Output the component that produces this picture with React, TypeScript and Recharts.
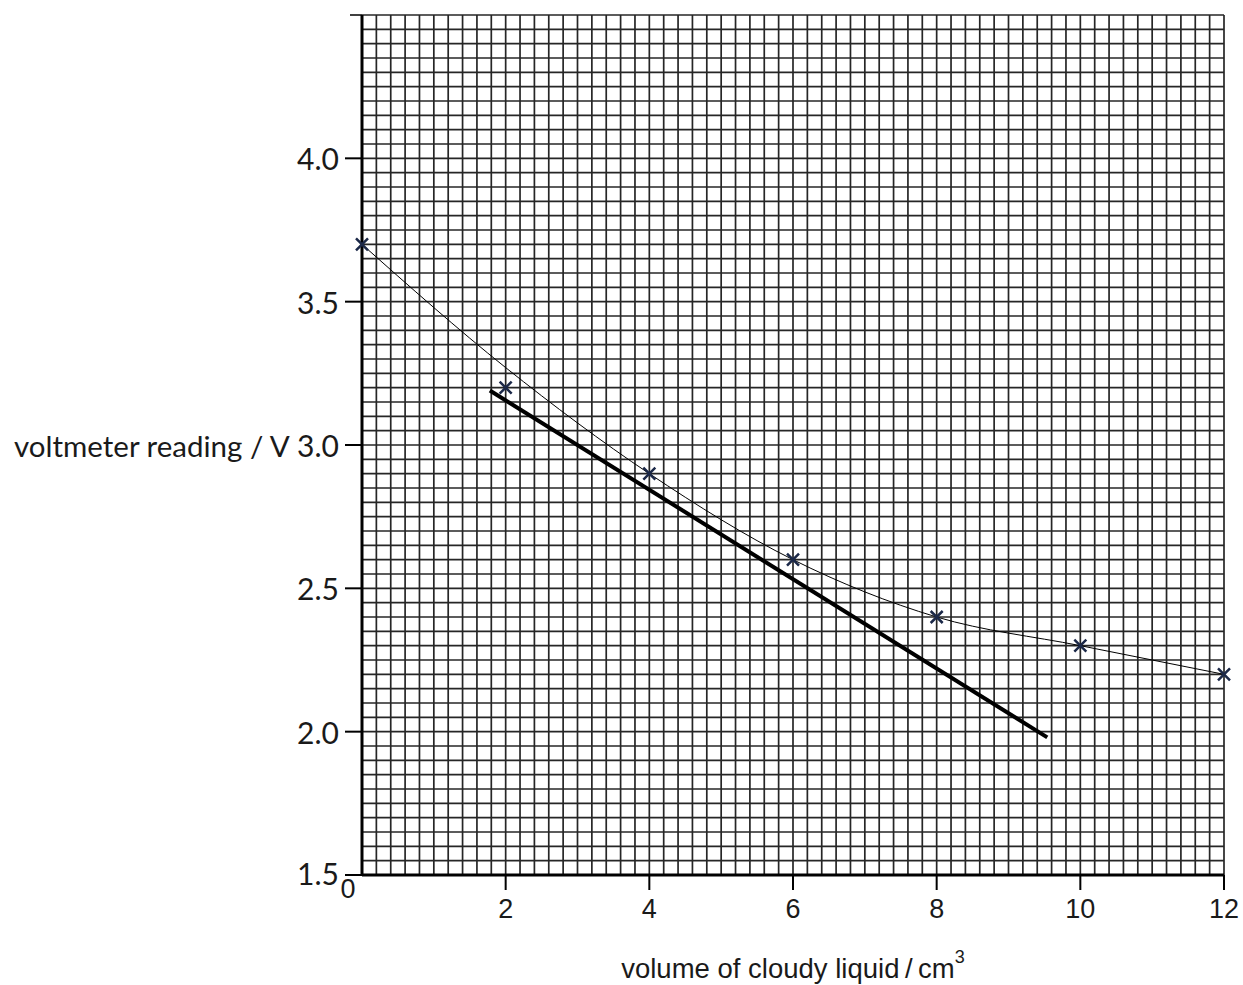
import React from 'react';
import {
  ComposedChart,
  Line,
  Scatter,
  XAxis,
  YAxis,
  ReferenceLine,
} from 'recharts';

// measured points (volume in cm3, reading in V)
const volume = [0, 2, 4, 6, 8, 10, 12];
const voltage = [3.7, 3.2, 2.9, 2.6, 2.4, 2.3, 2.2];

// hand-drawn best fit curve
const curveVolume = [0, 2, 4, 6, 8, 10, 12];
const curveVoltage = [3.7, 3.27, 2.9, 2.6, 2.4, 2.3, 2.2];

// tangent line
const tangentVolume = [1.78, 9.54];
const tangentVoltage = [3.19, 1.98];

const xTicks = [0, 2, 4, 6, 8, 10, 12];
const yTicks = [1.5, 2, 2.5, 3, 3.5, 4, 4.5];

// graph paper: 0.2 cm3 by 0.05 V squares
const gridX = Array.from({ length: 61 }, (_, i) => +(i * 0.2).toFixed(2));
const gridY = Array.from({ length: 61 }, (_, i) => +(1.5 + i * 0.05).toFixed(2));

const points = volume.map((x, i) => ({ x, y: voltage[i] }));
const curve = curveVolume.map((x, i) => ({ x, y: curveVoltage[i] }));
const tangent = tangentVolume.map((x, i) => ({ x, y: tangentVoltage[i] }));

const INK = '#1a1a1a';

const XTick = (props: any) => {
  const { x, y, payload } = props;
  if (payload.value === 0) {
    return (
      <text x={x - 14} y={y + 14} textAnchor="middle" dominantBaseline="central"
        fontFamily="'Liberation Sans', Arial, sans-serif" fontSize={27} fill={INK}>
        0
      </text>
    );
  }
  return (
    <g>
      <line x1={x} y1={y} x2={x} y2={y + 15} stroke="#000" strokeWidth={2} />
      <text x={x} y={y + 34} textAnchor="middle" dominantBaseline="central"
        fontFamily="'Liberation Sans', Arial, sans-serif" fontSize={27} fill={INK}>
        {payload.value}
      </text>
    </g>
  );
};

const YTick = (props: any) => {
  const { x, y, payload } = props;
  const top = payload.value === 4.5;
  return (
    <g>
      <line x1={x - (top ? 12 : 17)} y1={y} x2={x} y2={y} stroke="#000" strokeWidth={top ? 1.5 : 2} />
      {!top && (
        <text x={x - 23} y={payload.value === 1.5 ? y - 2 : y} textAnchor="end" dominantBaseline="central"
          fontFamily="Lato, 'Open Sans', sans-serif" fontSize={30} fill={INK}>
          {payload.value.toFixed(1)}
        </text>
      )}
    </g>
  );
};

const Cross = (props: any) => {
  const { cx, cy } = props;
  const s = 6;
  return (
    <path
      d={`M${cx - s},${cy - s}L${cx + s},${cy + s}M${cx - s},${cy + s}L${cx + s},${cy - s}`}
      stroke="#1b2848"
      strokeWidth={2.5}
      fill="none"
    />
  );
};

export default function App() {
  return (
    <div style={{ position: 'absolute', left: 0, top: 0, background: '#fff' }}>
      <ComposedChart width={1243} height={985} margin={{ top: 15, right: 19, bottom: 0, left: 0 }}>
        <XAxis
          dataKey="x"
          type="number"
          domain={[0, 12]}
          ticks={xTicks}
          interval={0}
          tick={<XTick />}
          tickLine={false}
          tickSize={0}
          tickMargin={0}
          height={110}
          axisLine={{ stroke: '#000', strokeWidth: 3 }}
          label={{
            position: 'insideBottom',
            content: (p: any) => {
              const vb = p.viewBox;
              return (
                <text x={vb.x + vb.width / 2} y={vb.y + 93} textAnchor="middle" dominantBaseline="central"
                  fontFamily="'Liberation Sans', Arial, sans-serif" fontSize={27.5} fill={INK}>
                  <tspan>{'volume of cloudy liquid\u2009/\u2009cm'}</tspan>
                  <tspan dy={-11} fontSize={18}>3</tspan>
                </text>
              );
            },
          }}
        />
        <YAxis
          dataKey="y"
          type="number"
          domain={[1.5, 4.5]}
          ticks={yTicks}
          interval={0}
          tick={<YTick />}
          tickLine={false}
          tickSize={0}
          tickMargin={0}
          width={362}
          axisLine={{ stroke: '#000', strokeWidth: 3 }}
          label={{
            position: 'insideLeft',
            content: (p: any) => {
              const vb = p.viewBox;
              return (
                <text x={vb.x + 14} y={vb.y + vb.height / 2} textAnchor="start" dominantBaseline="central"
                  fontFamily="Lato, 'Open Sans', sans-serif" fontSize={29.5} fill={INK}>
                  voltmeter reading / V
                </text>
              );
            },
          }}
        />
        {gridX.map((v) => (
          <ReferenceLine key={`gx-${v}`} x={v} stroke="#262626" strokeWidth={1.7} />
        ))}
        {gridY.map((v) => (
          <ReferenceLine key={`gy-${v}`} y={v} stroke="#262626" strokeWidth={1.7} />
        ))}
        <Line
          data={curve}
          dataKey="y"
          type="monotone"
          stroke="#000"
          strokeWidth={1}
          dot={false}
          activeDot={false}
          isAnimationActive={false}
        />
        <Line
          data={tangent}
          dataKey="y"
          type="linear"
          stroke="#000"
          strokeWidth={4}
          dot={false}
          activeDot={false}
          isAnimationActive={false}
        />
        <Scatter data={points} dataKey="y" shape={<Cross />} isAnimationActive={false} />
      </ComposedChart>
    </div>
  );
}
